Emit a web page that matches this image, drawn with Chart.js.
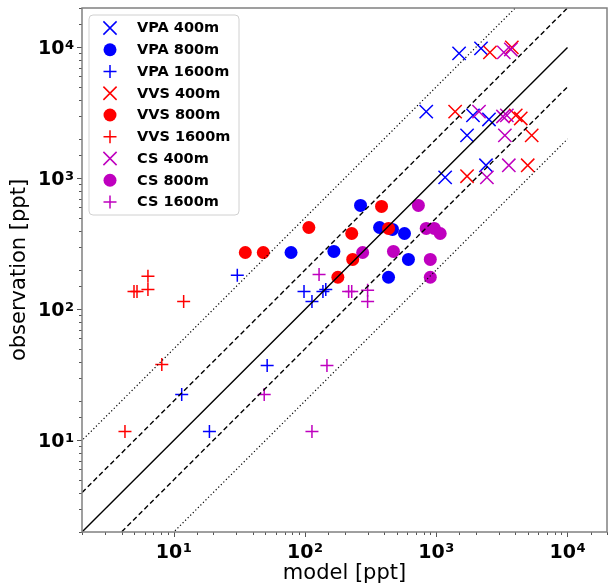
<!DOCTYPE html>
<html>
<head>
<meta charset="utf-8">
<script src="https://cdn.jsdelivr.net/npm/chart.js@4"></script>
<style>
  html, body { margin: 0; padding: 0; background: #fff; }
  canvas { display: block; }
</style>
</head>
<body>
<canvas id="chart" width="608" height="586"></canvas>
<script>
// model / observation values [ppt]
const vpa400x = [1493, 2193, 839, 1905, 2522, 1717, 2393, 1169];
const vpa400y = [9000, 9830, 3240, 3030, 2820, 2130, 1260, 1020];
const vpa800x = [78.3, 166, 265, 370, 464, 573, 614, 433];
const vpa800y = [272, 277, 622, 422, 408, 380, 241, 176];
const vpa1600x = [30.5, 98.3, 137, 144, 113, 51.5, 11.5, 18.7];
const vpa1600y = [182, 137, 137, 142, 115, 37.4, 22.4, 11.7];

const vvs400x = [2565, 3767, 1393, 4036, 4404, 5337, 4977, 1717];
const vvs400y = [9160, 10000, 3240, 3030, 2870, 2130, 1260, 1040];
const vvs800x = [35.1, 48.1, 107, 227, 383, 433, 231, 178];
const vvs800y = [272, 272, 422, 380, 611, 415, 241, 176];
const vvs1600x = [6.36, 4.98, 5.25, 6.36, 11.9, 8.11, 4.25];
const vvs1600y = [179, 137, 137, 142, 115, 38.0, 11.7];

const cs400x = [3273, 3700, 2118, 3222, 3452, 3334, 3573, 2432];
const cs400y = [9160, 9650, 3240, 2970, 3030, 2130, 1260, 1020];
const cs800x = [731, 839, 966, 1072, 275, 472, 901, 901];
const cs800y = [622, 415, 415, 380, 272, 277, 241, 176];
const cs1600x = [128, 215, 227, 300, 300, 147, 48.9, 113];
const cs1600y = [185, 137, 137, 140, 115, 37.4, 22.4, 11.7];

// reference lines (1:1, factor 2, factor 5)
const lineOneToOne = [[1, 1], [10000, 10000]];
const lineTwoUp = [[1, 2], [10000, 20000]];
const lineTwoDown = [[1, 0.5], [10000, 5000]];
const lineFiveUp = [[1, 5], [10000, 50000]];
const lineFiveDown = [[1, 0.2], [10000, 2000]];

const tickValues = [10, 100, 1000, 10000];
const tickExps = ["1", "2", "3", "4"];

const BLUE = "#0000ff";
const RED = "#ff0000";
const MAGENTA = "#bf00bf";

const series = [
  { label: "VPA 400m", xs: vpa400x, ys: vpa400y, color: BLUE, style: "crossRot" },
  { label: "VPA 800m", xs: vpa800x, ys: vpa800y, color: BLUE, style: "circle" },
  { label: "VPA 1600m", xs: vpa1600x, ys: vpa1600y, color: BLUE, style: "cross" },
  { label: "VVS 400m", xs: vvs400x, ys: vvs400y, color: RED, style: "crossRot" },
  { label: "VVS 800m", xs: vvs800x, ys: vvs800y, color: RED, style: "circle" },
  { label: "VVS 1600m", xs: vvs1600x, ys: vvs1600y, color: RED, style: "cross" },
  { label: "CS 400m", xs: cs400x, ys: cs400y, color: MAGENTA, style: "crossRot" },
  { label: "CS 800m", xs: cs800x, ys: cs800y, color: MAGENTA, style: "circle" },
  { label: "CS 1600m", xs: cs1600x, ys: cs1600y, color: MAGENTA, style: "cross" },
];

const FONT = "'DejaVu Sans', sans-serif";

function pointDataset(s, i) {
  const radius = s.style === "crossRot" ? 9.4 : 6.5;
  return {
    label: s.label,
    data: s.xs.map((v, k) => ({ x: v, y: s.ys[k] })),
    pointStyle: s.style,
    pointRadius: radius,
    pointHoverRadius: radius,
    backgroundColor: s.color,
    borderColor: s.color,
    borderWidth: s.style === "circle" ? 0 : 1.5,
    showLine: false,
    order: 20 - i,
  };
}

function lineDataset(pts, dash, width) {
  return {
    label: "",
    data: pts.map((p) => ({ x: p[0], y: p[1] })),
    showLine: true,
    pointRadius: 0,
    borderColor: "#000",
    borderWidth: width,
    borderDash: dash,
    clip: 0,
    order: 0,
  };
}

function isPow10(v) {
  const l = Math.log10(v);
  return Math.abs(l - Math.round(l)) < 1e-9;
}

function drawPow(ctx, exp, left, yc) {
  ctx.font = `bold 19px ${FONT}`;
  ctx.textBaseline = "alphabetic";
  ctx.textAlign = "left";
  ctx.fillText("10", left, yc + 7);
  const w1 = ctx.measureText("10").width;
  ctx.font = `bold 13px ${FONT}`;
  ctx.fillText(exp, left + w1 + 0.5, yc + 1.3);
}

function powWidth(ctx, exp) {
  ctx.font = `bold 19px ${FONT}`;
  const w1 = ctx.measureText("10").width;
  ctx.font = `bold 13px ${FONT}`;
  return w1 + 0.5 + ctx.measureText(exp).width;
}

const decorPlugin = {
  id: "decor",
  afterDraw(chart) {
    const { ctx, chartArea: a } = chart;
    const xs = chart.scales.x;
    const ys = chart.scales.y;
    ctx.save();

    // ticks
    ctx.strokeStyle = "#555";
    ctx.lineWidth = 1;
    xs.ticks.forEach((t) => {
      const px = Math.round(xs.getPixelForValue(t.value)) + 0.5;
      const len = isPow10(t.value) ? 5 : 3;
      ctx.beginPath();
      ctx.moveTo(px, a.bottom);
      ctx.lineTo(px, a.bottom + len);
      ctx.stroke();
    });
    ys.ticks.forEach((t) => {
      const py = Math.round(ys.getPixelForValue(t.value)) + 0.5;
      const len = isPow10(t.value) ? 5 : 3;
      ctx.beginPath();
      ctx.moveTo(a.left, py);
      ctx.lineTo(a.left - len, py);
      ctx.stroke();
    });

    // frame
    ctx.strokeStyle = "#808080";
    ctx.lineWidth = 1.5;
    ctx.strokeRect(a.left, a.top, a.right - a.left, a.bottom - a.top);

    // tick labels
    ctx.fillStyle = "#000";
    tickValues.forEach((v, i) => {
      const w = powWidth(ctx, tickExps[i]);
      const px = xs.getPixelForValue(v);
      drawPow(ctx, tickExps[i], px - w / 2, 551);
      const py = ys.getPixelForValue(v);
      drawPow(ctx, tickExps[i], 74 - w, py);
    });

    // legend
    const lx = 89, ly = 15, lw = 150, lh = 200, r = 4;
    ctx.beginPath();
    ctx.moveTo(lx + r, ly);
    ctx.arcTo(lx + lw, ly, lx + lw, ly + lh, r);
    ctx.arcTo(lx + lw, ly + lh, lx, ly + lh, r);
    ctx.arcTo(lx, ly + lh, lx, ly, r);
    ctx.arcTo(lx, ly, lx + lw, ly, r);
    ctx.closePath();
    ctx.fillStyle = "rgba(255,255,255,0.8)";
    ctx.fill();
    ctx.strokeStyle = "#d0d0d0";
    ctx.lineWidth = 1;
    ctx.stroke();

    series.forEach((s, i) => {
      const cy = 28 + i * 21.75;
      const cx = 110;
      ctx.strokeStyle = s.color;
      ctx.fillStyle = s.color;
      ctx.lineWidth = 1.5;
      ctx.beginPath();
      if (s.style === "circle") {
        ctx.arc(cx, cy, 6.5, 0, Math.PI * 2);
        ctx.fill();
      } else if (s.style === "crossRot") {
        ctx.moveTo(cx - 6.6, cy - 6.6);
        ctx.lineTo(cx + 6.6, cy + 6.6);
        ctx.moveTo(cx - 6.6, cy + 6.6);
        ctx.lineTo(cx + 6.6, cy - 6.6);
        ctx.stroke();
      } else {
        ctx.moveTo(cx - 6.5, cy);
        ctx.lineTo(cx + 6.5, cy);
        ctx.moveTo(cx, cy - 6.5);
        ctx.lineTo(cx, cy + 6.5);
        ctx.stroke();
      }
      ctx.fillStyle = "#000";
      ctx.font = `bold 14.5px ${FONT}`;
      ctx.textAlign = "left";
      ctx.textBaseline = "middle";
      ctx.fillText(s.label, 137, cy + 0.5);
    });

    ctx.restore();
  },
};

const datasets = series.map(pointDataset).concat([
  lineDataset(lineOneToOne, [], 1.4),
  lineDataset(lineTwoUp, [5, 3], 1.4),
  lineDataset(lineTwoDown, [5, 3], 1.4),
  lineDataset(lineFiveUp, [1.2, 2.4], 1.2),
  lineDataset(lineFiveDown, [1.2, 2.4], 1.2),
]);

new Chart(document.getElementById("chart"), {
  type: "scatter",
  data: { datasets },
  options: {
    responsive: false,
    animation: false,
    devicePixelRatio: 1,
    layout: { autoPadding: false, padding: { top: 8, right: 1, left: 0, bottom: 0 } },
    plugins: {
      legend: { display: false },
      tooltip: { enabled: false },
    },
    scales: {
      x: {
        type: "logarithmic",
        min: 2,
        max: 20000,
        grid: { display: false },
        border: { display: false },
        ticks: { display: false },
        title: {
          display: true,
          text: "model [ppt]",
          color: "#000",
          font: { family: FONT, size: 21 },
          padding: { top: 0, bottom: 0 },
        },
        afterFit: (scale) => { scale.height = 54; },
      },
      y: {
        type: "logarithmic",
        min: 2,
        max: 20000,
        grid: { display: false },
        border: { display: false },
        ticks: { display: false },
        title: {
          display: true,
          text: "observation [ppt]",
          color: "#000",
          font: { family: FONT, size: 21 },
          padding: { top: 7, bottom: 0 },
        },
        afterFit: (scale) => { scale.width = 82; },
      },
    },
  },
  plugins: [decorPlugin],
});
</script>
</body>
</html>
